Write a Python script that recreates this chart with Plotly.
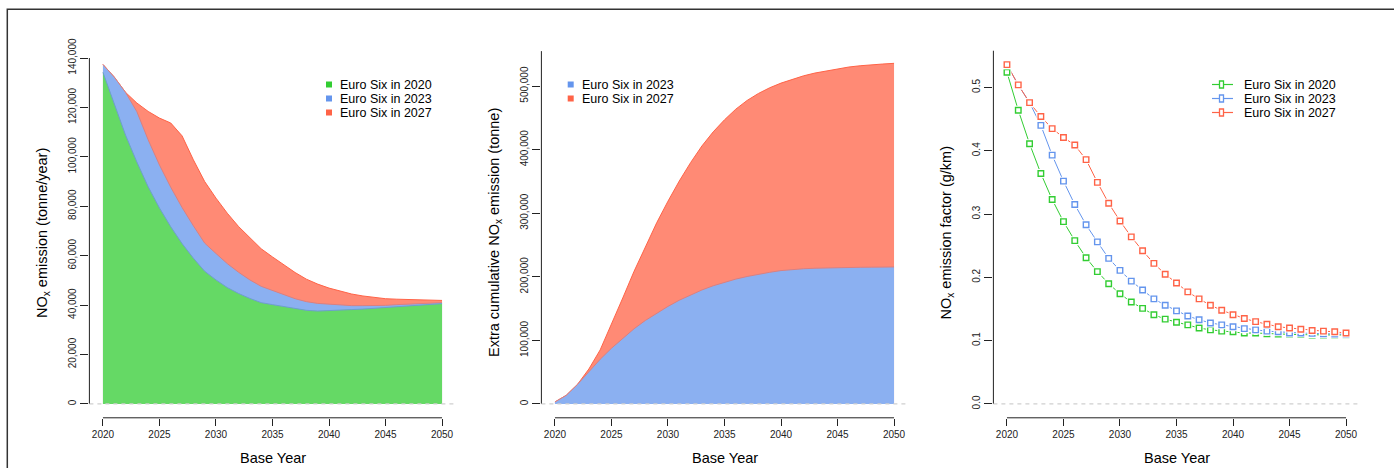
import plotly.graph_objects as go

# ---------------- data ----------------
years = list(range(2020, 2051))

# Annual NOx emission (tonne/year)
nox_euro6_2020 = [134200, 121900, 108800, 97900, 87900, 79300, 71700, 64900, 59000, 53700,
                  50200, 47100, 44700, 42700, 41000, 40200, 39500, 38500, 37900, 37600,
                  37700, 37900, 38200, 38400, 38700, 39100, 39300, 39500, 39800, 40200, 40600]
nox_euro6_2023 = [137400, 132300, 126100, 118300, 106900, 96700, 87700, 79500, 72100, 65100,
                  60900, 56800, 53300, 50200, 47600, 46000, 44200, 42600, 41400, 40700,
                  40400, 40000, 39800, 39800, 39700, 39900, 40200, 40400, 40600, 40800, 41000]
nox_euro6_2027 = [137400, 132300, 126100, 121800, 118400, 115700, 113700, 108500, 98800, 90000,
                  83300, 77200, 71800, 67100, 62800, 59500, 56300, 53200, 50500, 48500,
                  46900, 45600, 44500, 43700, 43000, 42600, 42400, 42200, 42100, 42000, 41900]

# Extra cumulative NOx emission (tonne)
cum_euro6_2023 = [3200, 13600, 30900, 51300, 70300, 87700, 103700, 118300, 131400, 142800,
                  153500, 163200, 171800, 179300, 185900, 191700, 196400, 200500, 204000, 207100,
                  209800, 211500, 212700, 213500, 214100, 214500, 214800, 215000, 215200, 215400, 215500]
cum_euro6_2027 = [3200, 13600, 30900, 55000, 85000, 124600, 166700, 208700, 248000, 285000,
                  319000, 350700, 379600, 405800, 428000, 447000, 463700, 477400, 488400, 497400,
                  504700, 511000, 516200, 520500, 524000, 527300, 530000, 532000, 533700, 534700, 535800]

# NOx emission factor (g/km)
ef_euro6_2020 = [0.524, 0.464, 0.411, 0.364, 0.323, 0.288, 0.258, 0.231, 0.209, 0.190,
                 0.174, 0.161, 0.151, 0.141, 0.134, 0.129, 0.125, 0.120, 0.117, 0.115,
                 0.114, 0.112, 0.112, 0.111, 0.1105, 0.110, 0.1095, 0.109, 0.109, 0.109, 0.109]
ef_euro6_2023 = [0.536, 0.504, 0.476, 0.440, 0.393, 0.352, 0.315, 0.283, 0.256, 0.230,
                 0.211, 0.194, 0.180, 0.166, 0.156, 0.147, 0.139, 0.133, 0.128, 0.125,
                 0.122, 0.119, 0.117, 0.115, 0.114, 0.112, 0.112, 0.1115, 0.111, 0.1105, 0.110]
ef_euro6_2027 = [0.536, 0.504, 0.476, 0.454, 0.435, 0.421, 0.409, 0.386, 0.350, 0.317,
                 0.289, 0.264, 0.242, 0.222, 0.205, 0.191, 0.177, 0.166, 0.156, 0.148,
                 0.141, 0.135, 0.130, 0.126, 0.122, 0.120, 0.118, 0.116, 0.115, 0.114, 0.112]

series_names = ["Euro Six in 2020", "Euro Six in 2023", "Euro Six in 2027"]
xticks = [2020, 2025, 2030, 2035, 2040, 2045, 2050]
left_yticks = [0, 20000, 40000, 60000, 80000, 100000, 120000, 140000]
mid_yticks = [0, 100000, 200000, 300000, 400000, 500000]
right_yticks = [0.0, 0.1, 0.2, 0.3, 0.4, 0.5]

# ---------------- style ----------------
W, H = 1394, 468
FONT = "Liberation Sans, Arial, Helvetica, sans-serif"
GREEN, BLUE, RED = "#32CD32", "#6495ED", "#FF6347"
GREEN_F, BLUE_F, RED_F = "#65d965", "#8bb0f1", "#ff8a75"


def px(x):
    return x / W


def py(y):
    return 1 - y / H


fig = go.Figure()

# ---- left panel: annual emission (overlapping areas)
fig.add_trace(go.Scatter(x=years, y=nox_euro6_2027, mode="lines", fill="tozeroy",
                         fillcolor=RED_F, line=dict(color=RED, width=1),
                         xaxis="x", yaxis="y", hoverinfo="skip", showlegend=False))
fig.add_trace(go.Scatter(x=years, y=nox_euro6_2023, mode="lines", fill="tozeroy",
                         fillcolor=BLUE_F, line=dict(color="#d98080", width=1),
                         xaxis="x", yaxis="y", hoverinfo="skip", showlegend=False))
fig.add_trace(go.Scatter(x=years, y=nox_euro6_2020, mode="lines", fill="tozeroy",
                         fillcolor=GREEN_F, line=dict(color="#6e9fcc", width=1),
                         xaxis="x", yaxis="y", hoverinfo="skip", showlegend=False))

# ---- middle panel: extra cumulative emission
fig.add_trace(go.Scatter(x=years, y=cum_euro6_2027, mode="lines", fill="tozeroy",
                         fillcolor=RED_F, line=dict(color=RED, width=1),
                         xaxis="x2", yaxis="y2", hoverinfo="skip", showlegend=False))
fig.add_trace(go.Scatter(x=years, y=cum_euro6_2023, mode="lines", fill="tozeroy",
                         fillcolor=BLUE_F, line=dict(color="#d98080", width=1),
                         xaxis="x2", yaxis="y2", hoverinfo="skip", showlegend=False))

# ---- right panel: emission factors
ef_series = [(ef_euro6_2020, GREEN), (ef_euro6_2023, BLUE), (ef_euro6_2027, RED)]
for vals, col in ef_series:
    fig.add_trace(go.Scatter(x=years, y=vals, mode="lines", line=dict(color=col, width=1),
                             xaxis="x3", yaxis="y3", hoverinfo="skip", showlegend=False))
for vals, col in ef_series:
    fig.add_trace(go.Scatter(x=years, y=vals, mode="markers",
                             marker=dict(symbol="square", size=9, color="white",
                                         line=dict(width=0)),
                             xaxis="x3", yaxis="y3", hoverinfo="skip", showlegend=False))
    fig.add_trace(go.Scatter(x=years, y=vals, mode="markers",
                             marker=dict(symbol="square", size=5.5, color="white",
                                         line=dict(color=col, width=1.4)),
                             xaxis="x3", yaxis="y3", hoverinfo="skip", showlegend=False))

# ---------------- axes ----------------
ydom = [py(417.8), py(44.2)]
tickfont = dict(family=FONT, size=10, color="#222")


def xax(left, right):
    return dict(domain=[px(left), px(right)], range=[2018.8, 2051.2], tickvals=xticks,
                ticks="outside", ticklen=7, tickwidth=1, tickcolor="#222",
                showgrid=False, zeroline=False, showline=False, tickfont=tickfont,
                fixedrange=True, automargin=False)


def yax(anchor, rng, tickvals, fmt):
    return dict(domain=ydom, range=rng, tickvals=tickvals, tickformat=fmt, anchor=anchor,
                ticks="outside", ticklen=8, tickwidth=1, tickcolor="#222", tickangle=-90,
                showgrid=False, zeroline=False, showline=False, tickfont=tickfont,
                fixedrange=True, automargin=False)


layout = dict(
    width=W, height=H, margin=dict(l=0, r=0, t=0, b=0, pad=0, autoexpand=False),
    paper_bgcolor="white", plot_bgcolor="white", showlegend=False,
    font=dict(family=FONT, color="black"),
    xaxis=dict(xax(89.4, 455.6), anchor="y"),
    yaxis=yax("x", [-5600, 145600], left_yticks, ","),
    xaxis2=dict(xax(541.4, 907.6), anchor="y2"),
    yaxis2=yax("x2", [-21770, 565900], mid_yticks, ","),
    xaxis3=dict(xax(993.4, 1359.6), anchor="y3"),
    yaxis3=yax("x3", [-0.02186, 0.5683], right_yticks, ".1f"),
)

shapes = []
annotations = []
axis_line = dict(color="#222", width=1)

panels = [("x", "y", left_yticks[-1]), ("x2", "y2", 555000), ("x3", "y3", 0.558)]
for xa, ya, ytop in panels:
    # y axis line
    shapes.append(dict(type="line", xref=f"{xa} domain", yref=ya, x0=0, x1=0, y0=0, y1=ytop,
                       line=axis_line, layer="above"))
    # x axis line
    shapes.append(dict(type="line", xref=xa, yref=f"{ya} domain", x0=xticks[0], x1=xticks[-1],
                       y0=0, y1=0, line=axis_line, layer="above"))
    # dashed zero line
    shapes.append(dict(type="line", xref=f"{xa} domain", yref=ya, x0=0, x1=1, y0=0, y1=0,
                       line=dict(color="#cfcfcf", width=1.2, dash="4px,4px"), layer="above"))

# outer frame
shapes.append(dict(type="rect", xref="paper", yref="paper", x0=px(7.3), x1=1.05,
                   y0=-0.05, y1=py(9.3), line=dict(color="#333", width=1.5),
                   fillcolor="rgba(0,0,0,0)", layer="above"))

title_font = dict(family=FONT, size=14.5, color="black")
# y titles
for xpos, txt in [(43, "NO<sub>x</sub> emission (tonne/year)"),
                  (495, "Extra cumulative NO<sub>x</sub> emission (tonne)"),
                  (946.5, "NO<sub>x</sub> emission factor (g/km)")]:
    annotations.append(dict(text=txt, xref="paper", yref="paper", x=px(xpos), y=py(233),
                            xanchor="center", yanchor="middle", textangle=-90,
                            showarrow=False, font=title_font, borderpad=0, borderwidth=0))
# x titles
for xpos in [272.5, 724.5, 1176.5]:
    annotations.append(dict(text="Base Year", xref="paper", yref="paper", x=px(xpos),
                            y=py(457.5), xanchor="center", yanchor="middle",
                            showarrow=False, font=title_font, borderpad=0, borderwidth=0))

leg_font = dict(family=FONT, size=12.5, color="black")
rows = [84.5, 98.5, 112.5]

# left legend (swatches)
for name, col, ry in zip(series_names, [GREEN, BLUE, RED], rows):
    shapes.append(dict(type="rect", xref="paper", yref="paper", x0=px(326), x1=px(332),
                       y0=py(ry + 3), y1=py(ry - 3), fillcolor=col, line=dict(width=0)))
    annotations.append(dict(text=name, xref="paper", yref="paper", x=px(339.5), y=py(ry),
                            xanchor="left", yanchor="middle", showarrow=False, font=leg_font,
                            borderpad=0, borderwidth=0))
# middle legend
for name, col, ry in zip(series_names[1:], [BLUE, RED], rows):
    shapes.append(dict(type="rect", xref="paper", yref="paper", x0=px(567.7), x1=px(573.7),
                       y0=py(ry + 3), y1=py(ry - 3), fillcolor=col, line=dict(width=0)))
    annotations.append(dict(text=name, xref="paper", yref="paper", x=px(581.5), y=py(ry),
                            xanchor="left", yanchor="middle", showarrow=False, font=leg_font,
                            borderpad=0, borderwidth=0))
# right legend (line + marker)
for name, col, ry in zip(series_names, [GREEN, BLUE, RED], rows):
    shapes.append(dict(type="line", xref="paper", yref="paper", x0=px(1212), x1=px(1233),
                       y0=py(ry), y1=py(ry), line=dict(color=col, width=1.2)))
    shapes.append(dict(type="rect", xref="paper", yref="paper", x0=px(1219.5), x1=px(1223.5),
                       y0=py(ry + 3.5), y1=py(ry - 3.5), fillcolor="white",
                       line=dict(color=col, width=1.3)))
    annotations.append(dict(text=name, xref="paper", yref="paper", x=px(1243.5), y=py(ry),
                            xanchor="left", yanchor="middle", showarrow=False, font=leg_font,
                            borderpad=0, borderwidth=0))

layout["shapes"] = shapes
layout["annotations"] = annotations
fig.update_layout(**layout)

fig.write_html("out.html", config={"displayModeBar": False})
